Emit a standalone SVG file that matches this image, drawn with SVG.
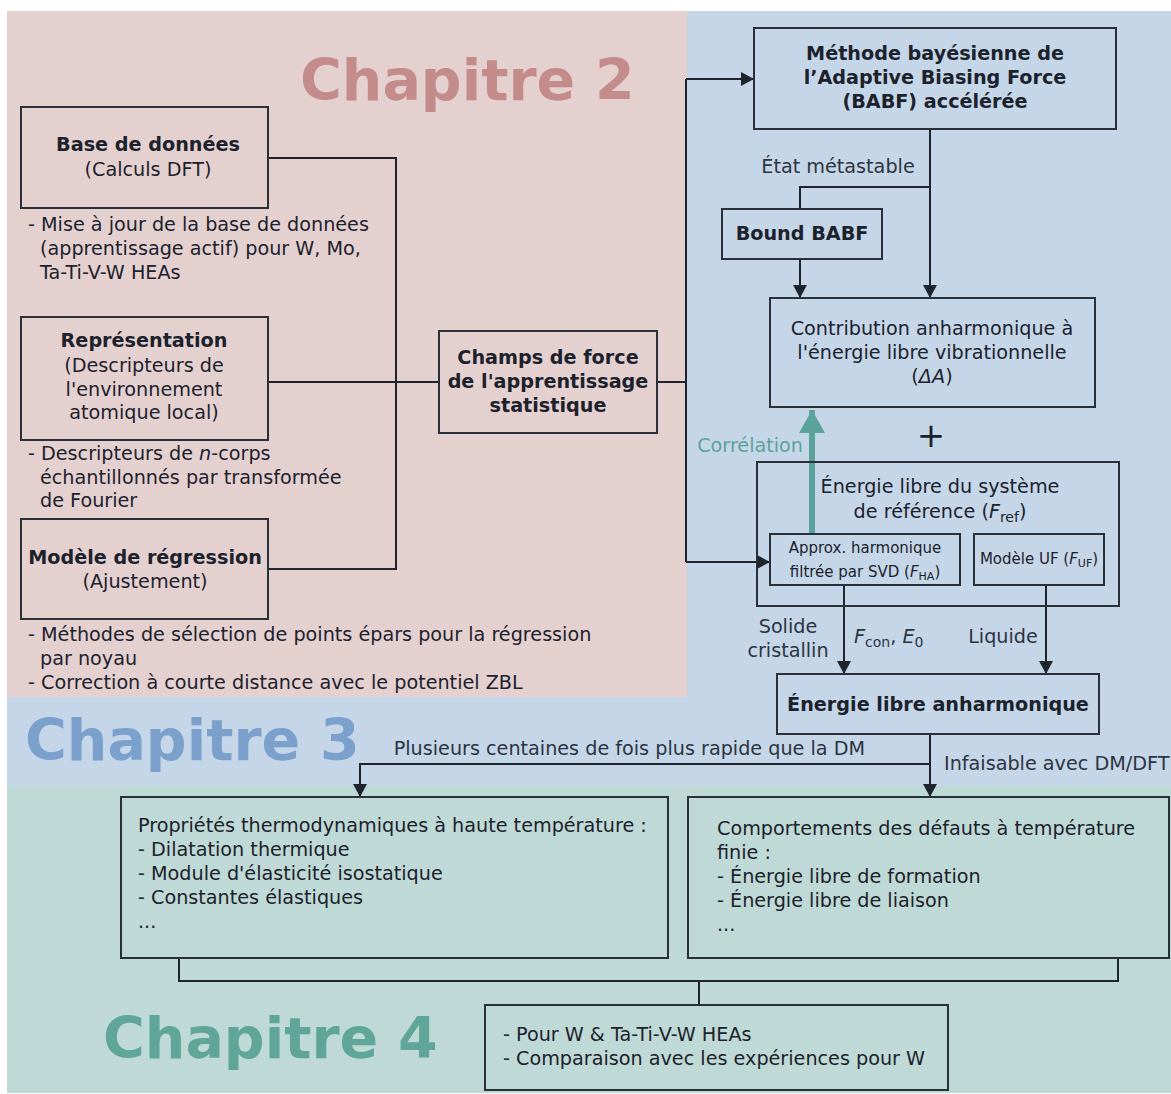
<svg xmlns="http://www.w3.org/2000/svg" width="1171" height="1094" viewBox="0 0 1171 1094">
  <style>
    text { font-family: "DejaVu Sans", "Liberation Sans", sans-serif; fill: #1c222c; font-size: 19.2px; }
    .b { font-weight: bold; }
    .c { text-anchor: middle; }
    .e { text-anchor: end; }
    .sm { font-size: 15px; }
    .chap { font-size: 57px; font-weight: bold; }
    .box { fill: none; stroke: #2a3038; stroke-width: 2; }
    .ln { fill: none; stroke: #1f252d; stroke-width: 2; }
    .arr { marker-end: url(#ah); }
    .lbl { fill: #2c3440; }
  </style>
  <defs>
    <marker id="ah" markerWidth="14" markerHeight="14" refX="13" refY="7" orient="auto" markerUnits="userSpaceOnUse">
      <path d="M0,0 L13,7 L0,14 z" fill="#1f252d"/>
    </marker>
    <marker id="ahT" markerWidth="26" markerHeight="26" refX="23" refY="13" orient="auto" markerUnits="userSpaceOnUse">
      <path d="M0,0 L23,13 L0,26 z" fill="#5ba39a"/>
    </marker>
  </defs>

  <!-- chapter backgrounds -->
  <g id="backgrounds">
    <rect x="7" y="11" width="1164" height="1082" fill="#c5d6e8"/>
    <rect x="7" y="11" width="680" height="686" fill="#e5d0d0"/>
    <rect x="7" y="786" width="1164" height="307" fill="#bfd9d6"/>
  </g>

  <g id="chapter-titles">
    <text class="chap" x="300" y="100" style="fill:#c48b8b">Chapitre 2</text>
    <text class="chap" x="25" y="760" style="fill:#7ba0cb">Chapitre 3</text>
    <text class="chap" x="103" y="1058" style="fill:#5fa698">Chapitre 4</text>
  </g>

  <!-- connectors -->
  <g id="connectors">
    <polyline class="ln" points="268,158 396,158 396,569 268,569"/>
    <line class="ln" x1="268" y1="382" x2="439" y2="382"/>
    <line class="ln" x1="657" y1="382" x2="686" y2="382"/>
    <line class="ln" x1="686" y1="79" x2="686" y2="562"/>
    <line class="ln arr" x1="686" y1="79" x2="754" y2="79"/>
    <line class="ln arr" x1="686" y1="562" x2="770" y2="562"/>
    <line class="ln arr" x1="930" y1="129" x2="930" y2="298"/>
    <polyline class="ln" points="930,187 800,187 800,209"/>
    <line class="ln arr" x1="800" y1="259" x2="800" y2="298"/>
    <line x1="812" y1="534" x2="812" y2="410" stroke="#5ba39a" stroke-width="6" marker-end="url(#ahT)"/>
    <line class="ln arr" x1="844" y1="585" x2="844" y2="674"/>
    <line class="ln arr" x1="1046" y1="585" x2="1046" y2="674"/>
    <line class="ln arr" x1="930" y1="734" x2="930" y2="797"/>
    <polyline class="ln arr" points="930,764 360,764 360,797"/>
    <polyline class="ln" points="179,958 179,981 1118,981 1118,958"/>
    <line class="ln" x1="699" y1="981" x2="699" y2="1005"/>
  </g>

  <!-- connector labels -->
  <g id="labels">
    <text class="c lbl" x="838" y="173">État métastable</text>
    <text class="e" x="803" y="452" style="fill:#5ba39a">Corrélation</text>
    <text class="c lbl" x="931" y="447" style="font-size:34px;fill:#1c222c">+</text>
    <text class="c lbl" x="788" y="633">Solide</text>
    <text class="c lbl" x="788" y="657">cristallin</text>
    <text class="lbl" x="854" y="643"><tspan font-style="italic">F</tspan><tspan font-size="14" dy="4">con</tspan><tspan dy="-4">, </tspan><tspan font-style="italic">E</tspan><tspan font-size="14" dy="4">0</tspan></text>
    <text class="c lbl" x="1003" y="643">Liquide</text>
    <text class="e lbl" x="865" y="755">Plusieurs centaines de fois plus rapide que la DM</text>
    <text class="lbl" x="944" y="770">Infaisable avec DM/DFT</text>
  </g>

  <g id="base-donnees">
    <rect class="box" x="21" y="107" width="247" height="101"/>
    <text class="b c" x="148" y="151">Base de données</text>
    <text class="c" x="148" y="176">(Calculs DFT)</text>
    <text x="28" y="231">- Mise à jour de la base de données</text>
    <text x="40" y="255">(apprentissage actif) pour W, Mo,</text>
    <text x="40" y="279">Ta-Ti-V-W HEAs</text>
  </g>

  <g id="representation">
    <rect class="box" x="21" y="317" width="247" height="123"/>
    <text class="b c" x="144" y="347">Représentation</text>
    <text class="c" x="144" y="372">(Descripteurs de</text>
    <text class="c" x="144" y="396">l'environnement</text>
    <text class="c" x="144" y="419">atomique local)</text>
    <text x="28" y="460">- Descripteurs de <tspan font-style="italic">n</tspan>-corps</text>
    <text x="40" y="484">échantillonnés par transformée</text>
    <text x="40" y="507">de Fourier</text>
  </g>

  <g id="modele-regression">
    <rect class="box" x="21" y="519" width="247" height="100"/>
    <text class="b c" x="145" y="564">Modèle de régression</text>
    <text class="c" x="145" y="588">(Ajustement)</text>
    <text x="28" y="641">- Méthodes de sélection de points épars pour la régression</text>
    <text x="40" y="665">par noyau</text>
    <text x="28" y="689">- Correction à courte distance avec le potentiel ZBL</text>
  </g>

  <g id="champs-force">
    <rect class="box" x="439" y="331" width="218" height="102"/>
    <text class="b c" x="548" y="364">Champs de force</text>
    <text class="b c" x="548" y="388">de l'apprentissage</text>
    <text class="b c" x="548" y="412">statistique</text>
  </g>

  <g id="babf">
    <rect class="box" x="754" y="28" width="362" height="101"/>
    <text class="b c" x="935" y="60">Méthode bayésienne de</text>
    <text class="b c" x="935" y="84">l’Adaptive Biasing Force</text>
    <text class="b c" x="935" y="108">(BABF) accélérée</text>
  </g>

  <g id="bound-babf">
    <rect class="box" x="722" y="209" width="160" height="50"/>
    <text class="b c" x="802" y="240">Bound BABF</text>
  </g>

  <g id="contribution">
    <rect class="box" x="770" y="298" width="325" height="109"/>
    <text class="c" x="932" y="335">Contribution anharmonique à</text>
    <text class="c" x="932" y="359">l'énergie libre vibrationnelle</text>
    <text class="c" x="932" y="383">(<tspan font-style="italic">ΔA</tspan>)</text>
  </g>

  <g id="reference">
    <rect class="box" x="757" y="462" width="362" height="144"/>
    <text class="c" x="940" y="493">Énergie libre du système</text>
    <text class="c" x="940" y="518">de référence (<tspan font-style="italic">F</tspan><tspan font-size="14" dy="4">ref</tspan><tspan dy="-4">)</tspan></text>
  </g>

  <g id="approx-harmonique">
    <rect class="box" x="770" y="534" width="190" height="51"/>
    <text class="c sm" x="865" y="553">Approx. harmonique</text>
    <text class="c sm" x="865" y="577">filtrée par SVD (<tspan font-style="italic">F</tspan><tspan font-size="11" dy="3">HA</tspan><tspan dy="-3">)</tspan></text>
  </g>

  <g id="modele-uf">
    <rect class="box" x="974" y="534" width="130" height="51"/>
    <text class="c sm" x="1039" y="564">Modèle UF (<tspan font-style="italic">F</tspan><tspan font-size="11" dy="3">UF</tspan><tspan dy="-3">)</tspan></text>
  </g>

  <g id="energie-anharmonique">
    <rect class="box" x="777" y="674" width="322" height="60"/>
    <text class="b c" x="938" y="711">Énergie libre anharmonique</text>
  </g>

  <g id="proprietes">
    <rect class="box" x="121" y="797" width="547" height="161"/>
    <text x="138" y="832">Propriétés thermodynamiques à haute température :</text>
    <text x="138" y="856">- Dilatation thermique</text>
    <text x="138" y="880">- Module d'élasticité isostatique</text>
    <text x="138" y="904">- Constantes élastiques</text>
    <text x="138" y="928">...</text>
  </g>

  <g id="defauts">
    <rect class="box" x="688" y="797" width="481" height="161"/>
    <text x="717" y="835">Comportements des défauts à température</text>
    <text x="717" y="859">finie :</text>
    <text x="717" y="883">- Énergie libre de formation</text>
    <text x="717" y="907">- Énergie libre de liaison</text>
    <text x="717" y="931">...</text>
  </g>

  <g id="applications">
    <rect class="box" x="485" y="1005" width="463" height="85"/>
    <text x="503" y="1041">- Pour W &amp; Ta-Ti-V-W HEAs</text>
    <text x="503" y="1065">- Comparaison avec les expériences pour W</text>
  </g>
</svg>
